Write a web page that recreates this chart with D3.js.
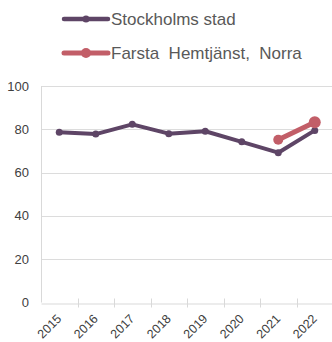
<!DOCTYPE html>
<html>
<head>
<meta charset="utf-8">
<script src="https://cdn.jsdelivr.net/npm/d3@7"></script>
<style>
  html, body { margin: 0; padding: 0; background: #fff; }
  svg { display: block; font-family: "Liberation Sans", Arial, sans-serif; }
</style>
</head>
<body>
<svg id="chart" width="332" height="342"></svg>
<script>
const years = ["2015", "2016", "2017", "2018", "2019", "2020", "2021", "2022"];
const stockholmValues = [78.6, 77.8, 82.3, 78.0, 79.1, 74.2, 69.2, 79.5];
const farstaValues = [null, null, null, null, null, null, 75.2, 83.3];
const yTicks = [0, 20, 40, 60, 80, 100];
const seriesNames = ["Stockholms stad", "Farsta  Hemtjänst,  Norra"];
const seriesColors = ["#5e4566", "#c25e68"];

const svg = d3.select("#chart");
const margin = { left: 41 };
const width = 332;

const x = d3.scaleBand().domain(years).range([margin.left, 333]);
const y = d3.scaleLinear().domain([0, 100]).range([302.5, 86]);

// horizontal gridlines
svg.append("g")
  .selectAll("line")
  .data(yTicks.filter(d => d > 0))
  .join("line")
  .attr("x1", margin.left).attr("x2", width)
  .attr("y1", d => Math.round(y(d)) + 0.5).attr("y2", d => Math.round(y(d)) + 0.5)
  .attr("stroke", "#dcdcdc").attr("stroke-width", 1);

// y axis labels
svg.append("g")
  .selectAll("text")
  .data(yTicks)
  .join("text")
  .attr("x", 29).attr("y", d => y(d))
  .attr("dy", "0.35em")
  .attr("text-anchor", "end")
  .attr("font-size", 13)
  .attr("fill", "#404040")
  .text(d => d);

// y axis line
svg.append("line")
  .attr("x1", margin.left + 0.5).attr("x2", margin.left + 0.5)
  .attr("y1", y(100)).attr("y2", y(0))
  .attr("stroke", "#d9d9d9");

// x axis baseline
const xAxis = svg.append("g")
  .attr("transform", `translate(0,${Math.round(y(0)) + 0.5})`)
  .call(d3.axisBottom(x).tickSize(0).tickFormat(""));
xAxis.select(".domain").attr("stroke", "#d9d9d9");
xAxis.selectAll(".tick").remove();

// category boundary ticks
svg.append("g")
  .selectAll("line")
  .data(years.slice(1))
  .join("line")
  .attr("x1", d => Math.round(x(d)) + 0.5).attr("x2", d => Math.round(x(d)) + 0.5)
  .attr("y1", y(0) - 4).attr("y2", y(0) + 5)
  .attr("stroke", "#d9d9d9");

// rotated year labels
svg.append("g")
  .selectAll("text")
  .data(years)
  .join("text")
  .attr("transform", d => `translate(${x(d) + x.bandwidth() / 2 + 3},${y(0) + 17}) rotate(-45)`)
  .attr("text-anchor", "end")
  .attr("font-size", 12.5)
  .attr("fill", "#404040")
  .text(d => d);

const cx = d => x(d) + x.bandwidth() / 2;

function drawSeries(values, color, lineW, r) {
  const pts = years.map((yr, i) => ({ yr, v: values[i] })).filter(p => p.v != null);
  const line = d3.line().x(p => cx(p.yr)).y(p => y(p.v));
  svg.append("path")
    .datum(pts)
    .attr("d", line)
    .attr("fill", "none")
    .attr("stroke", color)
    .attr("stroke-width", lineW)
    .attr("stroke-linejoin", "round")
    .attr("stroke-linecap", "round");
  svg.append("g")
    .selectAll("circle")
    .data(pts)
    .join("circle")
    .attr("cx", p => cx(p.yr)).attr("cy", p => y(p.v))
    .attr("r", (p, i) => r[Math.min(i, r.length - 1)])
    .attr("fill", color);
}

drawSeries(stockholmValues, seriesColors[0], 4, [3.5]);
drawSeries(farstaValues, seriesColors[1], 5, [5, 6]);

// legend
const legend = svg.append("g");
const legendRows = [
  { name: seriesNames[0], color: seriesColors[0], y: 19, w: 4.5, r: 3.5 },
  { name: seriesNames[1], color: seriesColors[1], y: 53, w: 5, r: 5 }
];
legendRows.forEach(row => {
  legend.append("line")
    .attr("x1", 64).attr("x2", 108)
    .attr("y1", row.y).attr("y2", row.y)
    .attr("stroke", row.color).attr("stroke-width", row.w)
    .attr("stroke-linecap", "round");
  legend.append("circle")
    .attr("cx", 86).attr("cy", row.y).attr("r", row.r)
    .attr("fill", row.color);
  legend.append("text")
    .attr("x", 111).attr("y", row.y)
    .attr("dy", "0.35em")
    .attr("font-size", 17)
    .attr("fill", "#595959")
    .style("white-space", "pre")
    .text(row.name);
});
</script>
</body>
</html>
